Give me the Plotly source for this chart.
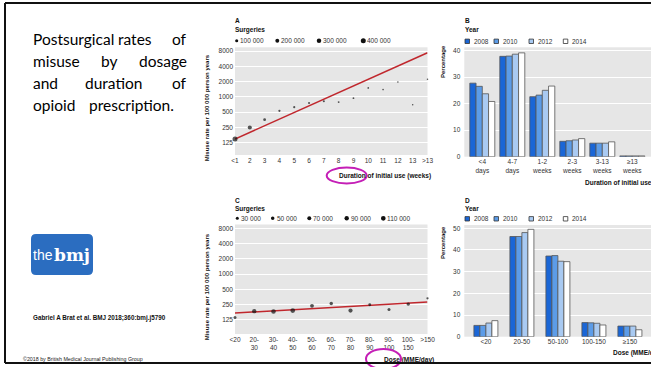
import plotly.graph_objects as go

W, H = 651, 367

# ---------------- data ----------------
# Panel A: misuse rate by duration of initial use (weeks)
dur_labels = ["<1", "2", "3", "4", "5", "6", "7", "8", "9", "10", "11", "12", "13", ">13"]
dur_rate = [148, 250, 355, 530, 627, 760, 823, 790, 943, 1500, 1390, 1970, 696, 2220]
dur_surgeries = [400000, 230000, 70000, 30000, 25000, 20000, 20000, 12000, 10000, 8000, 6000, 4000, 3000, 3000]
dur_fit = [148, 7400]
dur_legend = [100000, 200000, 300000, 400000]

# Panel C: misuse rate by dose (MME/day)
dose_labels = ["<20", "20-<br>30", "30-<br>40", "40-<br>50", "50-<br>60", "60-<br>70",
               "70-<br>80", "80-<br>90", "90-<br>100", "100-<br>150", ">150"]
dose_rate = [139, 185, 183, 190, 236, 262, 190, 248, 200, 255, 333]
dose_surgeries = [30000, 90000, 100000, 110000, 60000, 45000, 80000, 25000, 30000, 45000, 10000]
dose_fit = [170, 280]
dose_legend = [30000, 50000, 70000, 90000, 110000]

rate_ticks = [125, 250, 500, 1000, 2000, 4000, 8000]

# Panel B: percentage by duration category and year
years = ["2008", "2010", "2012", "2014"]
dur_cats = ["<4<br>days", "4-7<br>days", "1-2<br>weeks", "2-3<br>weeks", "3-13<br>weeks", "≥13<br>weeks"]
durpct_2008 = [27.7, 37.8, 22.6, 5.8, 5.1, 0.3]
durpct_2010 = [26.5, 37.9, 23.2, 6.0, 5.1, 0.3]
durpct_2012 = [23.7, 38.6, 25.0, 6.3, 5.1, 0.3]
durpct_2014 = [20.8, 39.1, 26.6, 6.8, 5.6, 0.3]

# Panel D: percentage by dose category and year
dose_cats = ["<20", "20-50", "50-100", "100-150", "≥150"]
dosepct_2008 = [5.2, 46.2, 37.2, 6.5, 4.9]
dosepct_2010 = [5.2, 46.2, 37.4, 6.4, 4.9]
dosepct_2012 = [6.3, 48.0, 34.8, 6.2, 4.9]
dosepct_2014 = [7.4, 49.5, 34.6, 5.4, 3.2]

year_colors = ["#1a66d6", "#5c9ce8", "#a9caf2", "#ffffff"]

# ---------------- helpers ----------------
def px(x):
    return x / W

def py(y):
    return 1 - y / H

FONT = "Liberation Sans, Arial, sans-serif"
TICKC = "#333333"
BG = "#e6e6e6"

def dot_size_a(n):
    return 1.2 + 3.8 * (n / 400000) ** 0.5

def dot_size_c(n):
    return 1.2 + 3.5 * (n / 110000) ** 0.5

annotations = []
shapes = []

def ann(x, y, text, size=6.5, xanchor="left", bold=False, color="#111", family=FONT, angle=0, yanchor="middle"):
    annotations.append(dict(
        x=px(x), y=py(y), xref="paper", yref="paper", text=("<b>%s</b>" % text) if bold else text,
        showarrow=False, xanchor=xanchor, yanchor=yanchor, textangle=angle, borderpad=0,
        font=dict(size=size, color=color, family=family)))

fig = go.Figure()

# ---------------- Panel A ----------------
xa = list(range(len(dur_labels)))
fig.add_trace(go.Scatter(x=[xa[0], xa[-1]], y=dur_fit, mode="lines",
                         line=dict(color="#c0272d", width=1.5), xaxis="x", yaxis="y", showlegend=False))
fig.add_trace(go.Scatter(x=xa, y=dur_rate, mode="markers", cliponaxis=False,
                         marker=dict(color="#111", size=[dot_size_a(n) for n in dur_surgeries], line=dict(width=0)),
                         xaxis="x", yaxis="y", showlegend=False))

# ---------------- Panel C ----------------
xc = list(range(len(dose_labels)))
fig.add_trace(go.Scatter(x=[xc[0], xc[-1]], y=dose_fit, mode="lines",
                         line=dict(color="#c0272d", width=1.5), xaxis="x3", yaxis="y3", showlegend=False))
fig.add_trace(go.Scatter(x=xc, y=dose_rate, mode="markers", cliponaxis=False,
                         marker=dict(color="#111", size=[dot_size_c(n) for n in dose_surgeries], line=dict(width=0)),
                         xaxis="x3", yaxis="y3", showlegend=False))

# ---------------- Panel B & D bars ----------------
def add_bars(cats, series, xaxis, yaxis, bw):
    xs = list(range(len(cats)))
    for i, (vals, col) in enumerate(zip(series, year_colors)):
        fig.add_trace(go.Bar(x=xs, y=vals, width=bw, offset=(i - 2) * bw,
                             marker=dict(color=col, line=dict(color="#555", width=0.8)),
                             xaxis=xaxis, yaxis=yaxis, showlegend=False, name=years[i]))

add_bars(dur_cats, [durpct_2008, durpct_2010, durpct_2012, durpct_2014], "x2", "y2", 0.2083)
add_bars(dose_cats, [dosepct_2008, dosepct_2010, dosepct_2012, dosepct_2014], "x4", "y4", 0.1667)

tickfont = dict(size=6.5, color=TICKC, family=FONT)

def rate_yaxis(dom, rng):
    return dict(domain=dom, type="log", range=rng, tickvals=rate_ticks,
                ticktext=[str(t) for t in rate_ticks], showgrid=True, gridcolor="white", gridwidth=1,
                zeroline=False, showline=False, ticks="", tickfont=tickfont, ticklabelstandoff=1,
                automargin=False)

fig.update_layout(
    width=W, height=H, margin=dict(l=0, r=0, t=0, b=0, pad=0, autoexpand=False),
    paper_bgcolor="white", plot_bgcolor=BG, barmode="overlay",
    xaxis=dict(domain=[px(235), px(427.5)], range=[0, 13], tickvals=xa, ticktext=dur_labels,
               showgrid=False, zeroline=False, ticks="", tickfont=tickfont, anchor="y", automargin=False),
    yaxis=rate_yaxis([py(155), py(47.3)], [1.8547, 3.9766]) | dict(anchor="x"),
    xaxis3=dict(domain=[px(235), px(427.5)], range=[0, 10], tickvals=xc, ticktext=dose_labels,
                showgrid=False, zeroline=False, ticks="", tickfont=tickfont, anchor="y3", automargin=False),
    yaxis3=rate_yaxis([py(334), py(224.5)], [1.815, 3.983]) | dict(anchor="x3"),
    xaxis2=dict(domain=[px(464.3), 1.0], range=[-0.6, 5.623], tickvals=list(range(len(dur_cats))),
                ticktext=dur_cats, showgrid=False, zeroline=False, ticks="", tickfont=tickfont, anchor="y2",
                automargin=False),
    yaxis2=dict(domain=[py(156.7), py(47.3)], range=[0, 41.2], tickvals=[0, 10, 20, 30, 40],
                showgrid=True, gridcolor="white", gridwidth=1, zeroline=False, ticks="",
                tickfont=tickfont, anchor="x2", ticklabelstandoff=3, automargin=False),
    xaxis4=dict(domain=[px(464.3), 1.0], range=[-0.6, 4.586], tickvals=list(range(len(dose_cats))),
                ticktext=dose_cats, showgrid=False, zeroline=False, ticks="", tickfont=tickfont, anchor="y4",
                automargin=False),
    yaxis4=dict(domain=[py(336.7), py(225)], range=[0, 51.5], tickvals=[0, 10, 20, 30, 40, 50],
                showgrid=True, gridcolor="white", gridwidth=1, zeroline=False, ticks="",
                tickfont=tickfont, anchor="x4", ticklabelstandoff=3, automargin=False),
)

# ---------------- panel headers / legends ----------------
# A
ann(234, 21, "A", 6.5, bold=True)
ann(234, 30.5, "Surgeries", 6.5, bold=True)
for n, xd in zip(dur_legend, [236.7, 277.3, 319.0, 363.3]):
    d = dot_size_a(n)
    shapes.append(dict(type="circle", xref="paper", yref="paper", x0=px(xd - d / 2), x1=px(xd + d / 2),
                       y0=py(40.7 + d / 2), y1=py(40.7 - d / 2), fillcolor="#111", line=dict(width=0)))
    ann(xd + 2.6, 40.7, "{:,}".format(n).replace(",", " "), 6.5, color=TICKC)
# C
ann(234, 200, "C", 6.5, bold=True)
ann(234, 209, "Surgeries", 6.5, bold=True)
for n, xd in zip(dose_legend, [237.3, 272.7, 309.3, 346.7, 383.3]):
    d = dot_size_c(n)
    shapes.append(dict(type="circle", xref="paper", yref="paper", x0=px(xd - d / 2), x1=px(xd + d / 2),
                       y0=py(218.3 + d / 2), y1=py(218.3 - d / 2), fillcolor="#111", line=dict(width=0)))
    ann(xd + 3, 218.3, "{:,}".format(n).replace(",", " "), 6.5, color=TICKC)
# B and D year legends
for letter, ly, top in [("B", 41.3, 21), ("D", 218.8, 200)]:
    ann(464, top, letter, 6.5, bold=True)
    ann(464, top + 8.7, "Year", 6.5, bold=True)
    for yr, col, xs in zip(years, year_colors, [465, 494, 529, 563.3]):
        shapes.append(dict(type="rect", xref="paper", yref="paper", x0=px(xs), x1=px(xs + 4.5),
                           y0=py(ly + 2.2), y1=py(ly - 2.2), fillcolor=col, line=dict(color="#333", width=0.8)))
        ann(xs + 8, ly, yr, 6.5, color=TICKC)

# axis titles
ann(207.3, 108, "Misuse rate per 100 000 person years", 6, bold=True, angle=-90, xanchor="center")
ann(207.3, 287, "Misuse rate per 100 000 person years", 6, bold=True, angle=-90, xanchor="center")
ann(443, 62, "Percentage", 6, bold=True, angle=-90, xanchor="center")
ann(443, 243, "Percentage", 6, bold=True, angle=-90, xanchor="center")
ann(432, 175.5, "Duration of initial use (weeks)", 6.5, bold=True, xanchor="right")
ann(435, 360, "Dose (MME/day)", 6.5, bold=True, xanchor="right")
ann(584, 183.3, "Duration of initial use (weeks)", 6.5, bold=True)
ann(611.7, 353.3, "Dose (MME/day)", 6.5, bold=True)

# magenta ellipses
for x0, x1, y0, y1 in [(326.7, 366.7, 167.5, 183.5), (366, 401, 349, 369)]:
    shapes.append(dict(type="circle", xref="paper", yref="paper", x0=px(x0), x1=px(x1), y0=py(y1), y1=py(y0),
                       line=dict(color="#c41fb6", width=2), fillcolor="rgba(0,0,0,0)"))

# ---------------- slide text (justified by placing words) ----------------
TF = "Lato, Open Sans, sans-serif"
TS = 15.5
title_words = [
    (38.5, [("Postsurgical", 32, "left"), ("rates", 117, "left"), ("of", 188, "right")]),
    (61.5, [("misuse", 32, "left"), ("by", 100, "left"), ("dosage", 188, "right")]),
    (83.5, [("and", 32, "left"), ("duration", 84, "left"), ("of", 188, "right")]),
    (105.5, [("opioid", 32, "left"), ("prescription.", 88, "left")]),
]
for yy, words in title_words:
    for w, xx, anc in words:
        ann(xx, yy, w, TS, family=TF, color="#000", xanchor=anc)

# BMJ logo
r = 5
x0, x1, y0, y1 = 31, 93, 234, 275
path = ("M {a},{b} L {c},{b} Q {x1},{b} {x1},{d} L {x1},{e} Q {x1},{f} {c},{f} L {a},{f} "
        "Q {x0},{f} {x0},{e} L {x0},{d} Q {x0},{b} {a},{b} Z").format(
    a=px(x0 + r), b=py(y0), c=px(x1 - r), d=py(y0 + r), e=py(y1 - r), f=py(y1), x0=px(x0), x1=px(x1))
shapes.append(dict(type="path", xref="paper", yref="paper", path=path, fillcolor="#2b6dc0", line=dict(width=0)))
ann(53.5, 255, "the", 14, family=FONT, color="white", xanchor="right")
ann(53, 255, "bmj", 17, family="DejaVu Serif, serif", color="white", bold=True)

ann(32, 318, "Gabriel A Brat et al. BMJ 2018;360:bmj.j5790", 6.3, bold=True, color="#111")
ann(22, 359, "©2018 by British Medical Journal Publishing Group", 5.3, color="#222")

# slide border
for x0_, y0_, x1_, y1_ in [(5, 3, 651, 3), (5, 3, 5, 363), (5, 363, 651, 363)]:
    shapes.append(dict(type="line", xref="paper", yref="paper", x0=px(x0_), y0=py(y0_), x1=px(x1_), y1=py(y1_),
                       line=dict(color="#111", width=2)))

fig.update_layout(annotations=annotations, shapes=shapes)
fig.write_html(
    "out.html",
    config={"displayModeBar": False, "staticPlot": True},
    post_script=("document.documentElement.style.overflow='hidden';"
                 "document.body.style.margin='0';document.body.style.overflow='hidden';"),
)
